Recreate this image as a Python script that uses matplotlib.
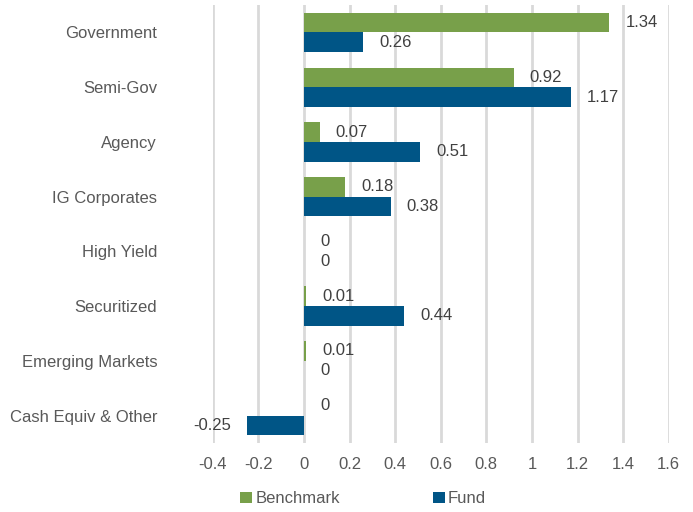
import matplotlib
matplotlib.use("Agg")
import matplotlib.pyplot as plt
from matplotlib import font_manager
import numpy as np

categories = ["Government", "Semi-Gov", "Agency", "IG Corporates", "High Yield",
              "Securitized", "Emerging Markets", "Cash Equiv & Other"]
benchmark = [1.34, 0.92, 0.07, 0.18, 0, 0.01, 0.01, 0]
fund = [0.26, 1.17, 0.51, 0.38, 0, 0.44, 0, -0.25]
xticks = [-0.4, -0.2, 0, 0.2, 0.4, 0.6, 0.8, 1, 1.2, 1.4, 1.6]
xticklabels = ["-0.4", "-0.2", "0", "0.2", "0.4", "0.6", "0.8", "1", "1.2", "1.4", "1.6"]

names = {f.name for f in font_manager.fontManager.ttflist}
fam = "Liberation Sans Narrow" if "Liberation Sans Narrow" in names else "Liberation Sans"
plt.rcParams['font.family'] = [fam, 'DejaVu Sans']

green = "#78a04a"
blue = "#005586"
txt = "#404040"

fig = plt.figure(figsize=(6.93, 5.12), dpi=100)
ax = fig.add_axes([0.307, 0.135, 0.658, 0.855])

n = len(categories)
y = np.arange(n)
h = 0.36
ax.barh(y - h / 2, benchmark, height=h, color=green, label="Benchmark", zorder=3)
ax.barh(y + h / 2, fund, height=h, color=blue, label="Fund", zorder=3)

off = 0.07
for i in range(n):
    for val, yy in ((benchmark[i], y[i] - h / 2), (fund[i], y[i] + h / 2)):
        lab = f"{val:g}"
        if val < 0:
            ax.text(val - off, yy, lab, ha="right", va="center", fontsize=12, color=txt)
        else:
            ax.text(val + off, yy, lab, ha="left", va="center", fontsize=12, color=txt)

ax.set_xlim(-0.4, 1.6)
ax.set_ylim(n - 0.5, -0.5)
ax.set_xticks(xticks)
ax.set_xticklabels(xticklabels, fontsize=12, color="#595959")
ax.set_yticks(y)
ax.set_yticklabels(categories, fontsize=12, color="#595959")
ax.tick_params(axis="x", length=0, pad=10)
ax.tick_params(axis="y", length=0, pad=40)
ax.xaxis.grid(True, color="#d9d9d9", linewidth=2, zorder=0)
for s in ax.spines.values():
    s.set_visible(False)

fig.legend(loc="lower left", bbox_to_anchor=(0.325, -0.018), ncol=2, frameon=False,
           fontsize=12, handlelength=0.7, handleheight=0.7, handletextpad=0.2,
           columnspacing=5.6, labelcolor="#595959")

fig.savefig("out.png", dpi=100)
